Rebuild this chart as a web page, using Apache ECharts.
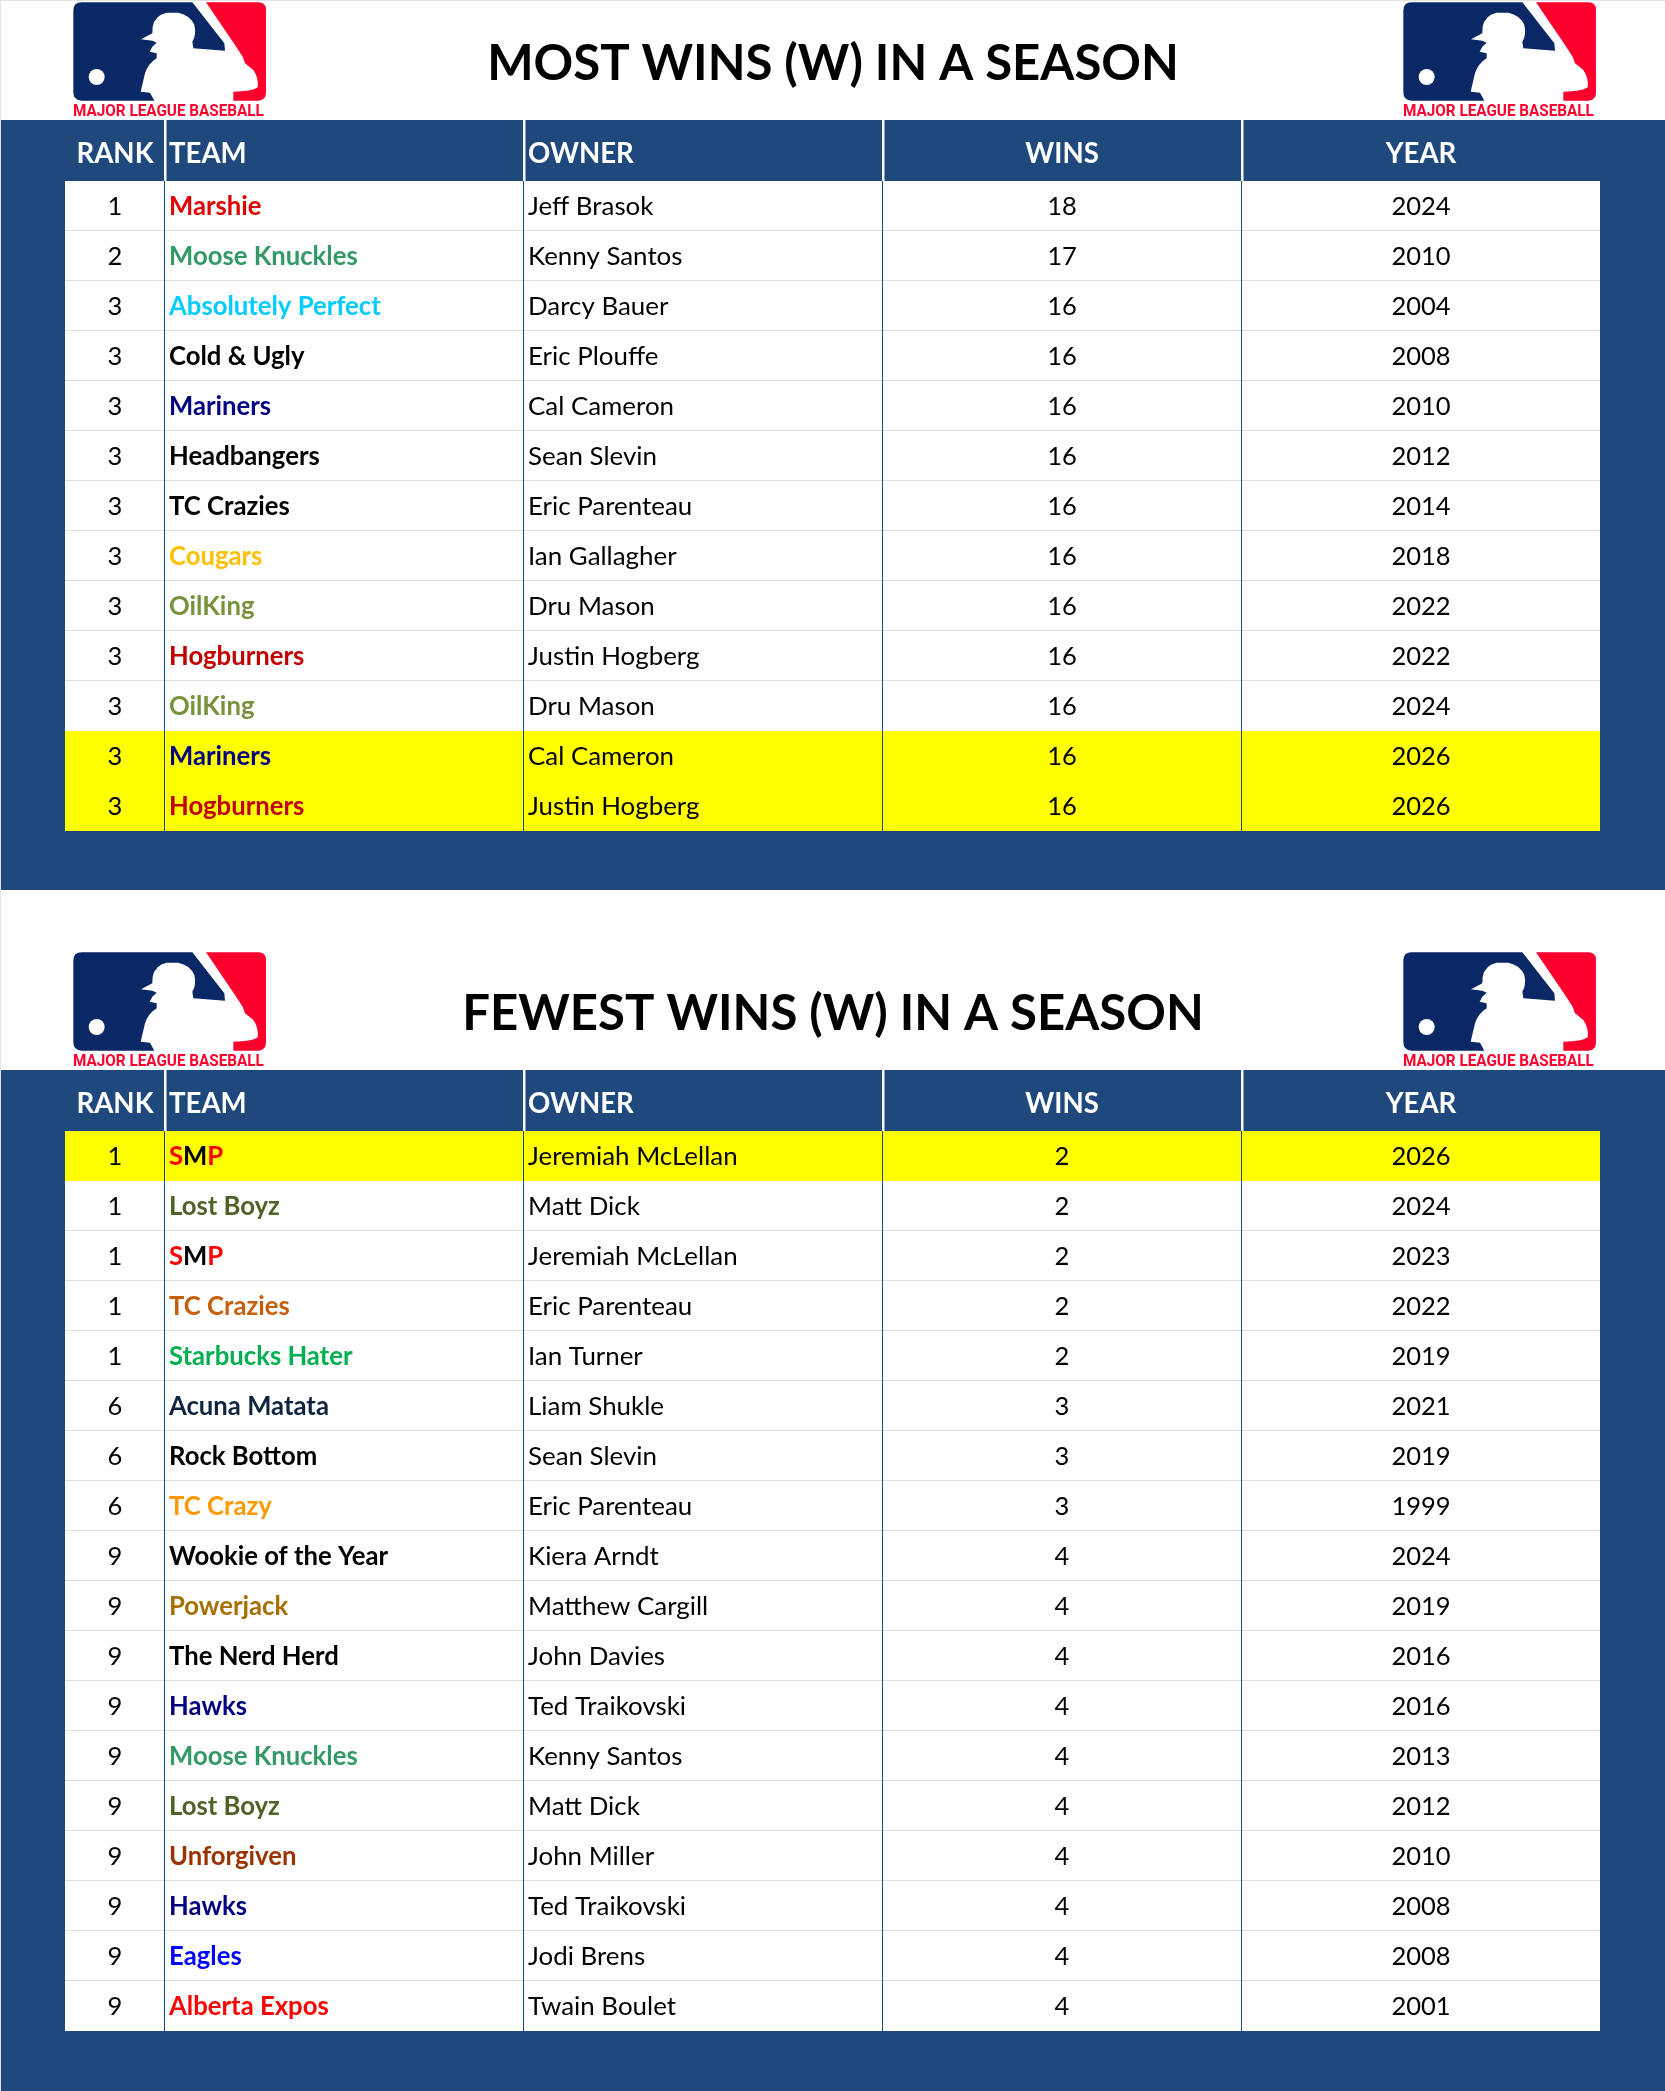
<!DOCTYPE html>
<html><head><meta charset="utf-8">
<style>html,body{margin:0;padding:0;background:#fff}#c{width:1665px;height:2091px}</style>
<script src="https://cdn.jsdelivr.net/npm/echarts@6/dist/echarts.min.js"></script>
</head><body><div id="c"></div>
<script>
// ---- data ----
const columnHeaders = ['RANK','TEAM','OWNER','WINS','YEAR'];

const mostTitle = 'MOST WINS (W) IN A SEASON';
const mostRanks = [1,2,3,3,3,3,3,3,3,3,3,3,3];
const mostTeams = ['Marshie','Moose Knuckles','Absolutely Perfect','Cold & Ugly','Mariners','Headbangers','TC Crazies','Cougars','OilKing','Hogburners','OilKing','Mariners','Hogburners'];
const mostOwners = ['Jeff Brasok','Kenny Santos','Darcy Bauer','Eric Plouffe','Cal Cameron','Sean Slevin','Eric Parenteau','Ian Gallagher','Dru Mason','Justin Hogberg','Dru Mason','Cal Cameron','Justin Hogberg'];
const mostWins = [18,17,16,16,16,16,16,16,16,16,16,16,16];
const mostYears = [2024,2010,2004,2008,2010,2012,2014,2018,2022,2022,2024,2026,2026];

const fewestTitle = 'FEWEST WINS (W) IN A SEASON';
const fewestRanks = [1,1,1,1,1,6,6,6,9,9,9,9,9,9,9,9,9,9];
const fewestTeams = ['SMP','Lost Boyz','SMP','TC Crazies','Starbucks Hater','Acuna Matata','Rock Bottom','TC Crazy','Wookie of the Year','Powerjack','The Nerd Herd','Hawks','Moose Knuckles','Lost Boyz','Unforgiven','Hawks','Eagles','Alberta Expos'];
const fewestOwners = ['Jeremiah McLellan','Matt Dick','Jeremiah McLellan','Eric Parenteau','Ian Turner','Liam Shukle','Sean Slevin','Eric Parenteau','Kiera Arndt','Matthew Cargill','John Davies','Ted Traikovski','Kenny Santos','Matt Dick','John Miller','Ted Traikovski','Jodi Brens','Twain Boulet'];
const fewestWins = [2,2,2,2,2,3,3,3,4,4,4,4,4,4,4,4,4,4];
const fewestYears = [2026,2024,2023,2022,2019,2021,2019,1999,2024,2019,2016,2016,2013,2012,2010,2008,2008,2001];

// ---- styles and layout (kept apart from the data) ----
const NAVY='#1F497D', NAVY_T='#000080', MOOSE='#339966', OIL='#76933C', HOG='#C00000', LOST='#4F6228';
const mostTeamColors = ['#E00000',MOOSE,'#00CCFF','#000000',NAVY_T,'#000000','#000000','#FFC000',OIL,HOG,OIL,NAVY_T,HOG];
const fewestTeamColors = ['#FF0000',LOST,'#FF0000','#C65F0C','#00B050','#0F243E','#000000','#FF9900','#000000','#A86F00','#000000',NAVY_T,MOOSE,LOST,'#993300',NAVY_T,'#0000FF','#FF0000'];
const mostHighlightRows = [11,12];
const fewestHighlightRows = [0];
const multiColorTeams = {SMP:[['S','#FF0000'],['M','#000000'],['P','#FF0000']]};
const columnEdges = [65,164,523,882,1241,1600];
const columnAlign = ['center','left','left','center','center'];
const TABLE_OFFSET = 950;
const FONT = 'Lato';
const TEAM_SIZE = 25.7, OWNER_SIZE = 25.9, NUM_SIZE = 25.5, HEAD_SIZE = 27.6, TITLE_SIZE = 49.1;
const TEXT_DY = 0.8;
const LOGO_RED='#FF002E', LOGO_BLUE='#0A2866';

const bluePath = 'M50,7 L382,7 L478,130 L480,152 L385,145 L382,125 Q395,105 388,75 Q375,45 340,38 L305,38 Q270,45 263,80 L262,100 L228,118 L262,122 L275,128 L262,140 L254,155 L275,160 L275,175 Q250,190 240,220 L227,275 L255,278 L268,302 L50,302 Q25,302 25,277 L25,32 Q25,7 50,7 Z';
const redPath = 'M423,7 L580,7 Q603,7 603,30 L603,277 Q603,302 580,302 L505,302 L505,275 Q560,275 578,262 Q582,235 565,210 L540,190 L533,170 L510,135 Z';
const logoOrigins = [[65,0],[1395,0],[65,TABLE_OFFSET],[1395,TABLE_OFFSET]];

function frame(off, title){
  return [
    {type:'rect', shape:{x:1, y:off+120, width:1664, height:off===0?770:1021}, style:{fill:NAVY}, z:0, silent:true},
    {type:'text', x:833, y:off+64.5, z:2, style:{text:title, fill:'#000', font:'bold '+TITLE_SIZE+'px '+FONT, align:'center', verticalAlign:'middle'}}
  ];
}
const logoSeries = {
  type:'custom', name:'Logos', coordinateSystem:'none', data:logoOrigins, silent:true, animation:false,
  renderItem(params, api){
    const ox = api.value(0), oy = api.value(1);
    return {type:'group', children:[
      {type:'path', shape:{pathData:bluePath, layout:'cover', x:ox+25/3, y:oy+7/3, width:455/3, height:295/3}, style:{fill:LOGO_BLUE}},
      {type:'path', shape:{pathData:redPath, layout:'cover', x:ox+423/3, y:oy+7/3, width:180/3, height:295/3}, style:{fill:LOGO_RED}},
      {type:'circle', shape:{cx:ox+95/3, cy:oy+231/3, r:8}, style:{fill:'#fff'}},
      {type:'text', x:ox+8, y:oy+103.5, scaleX:0.955, style:{text:'MAJOR LEAGUE BASEBALL', fill:LOGO_RED, font:'bold 16px Roboto', align:'left', verticalAlign:'top'}}
    ]};
  }
};

function bodySeries(name, gridIdx, ranks, teams, owners, wins, years, colors, highlight){
  const cols = [ranks, teams, owners, wins, years];
  const data = [];
  cols.forEach((arr,c)=>arr.forEach((v,r)=>data.push([columnEdges[c], r, c])));
  return {
    type:'custom', name, xAxisIndex:gridIdx, yAxisIndex:gridIdx, coordinateSystem:'cartesian2d', data, silent:true,
    animation:false, clip:false, encode:{x:0,y:1},
    renderItem(params, api){
      const left = api.value(0), row = api.value(1), c = api.value(2);
      const pos = api.coord([left, row]);
      const right = api.coord([columnEdges[c+1], row])[0];
      const h = api.size([0,1])[1];
      const top = pos[1]-h/2, bottom = top+h;
      const hl = highlight.includes(row);
      const next = highlight.includes(row+1);
      const kids = [{type:'rect', shape:{x:pos[0], y:top, width:right-pos[0], height:h}, style:{fill:hl?'#FFFF00':'#FFFFFF'}}];
      if(!hl && !next && row < ranks.length-1){
        kids.push({type:'rect', shape:{x:pos[0], y:bottom-1, width:right-pos[0], height:1}, style:{fill:'#DFDFDF'}});
      }
      if(c<4) kids.push({type:'rect', z2:5, shape:{x:right, y:top, width:1, height:h}, style:{fill:NAVY}});
      const raw = cols[c][row];
      const tx = columnAlign[c]==='center' ? (pos[0]+right)/2+0.5 : pos[0]+5;
      const size = c===1 ? TEAM_SIZE : c===2 ? OWNER_SIZE : NUM_SIZE;
      const txt = {x:tx, y:pos[1]+TEXT_DY, style:{fill:'#000', align:columnAlign[c], verticalAlign:'middle', font:(c===1?'bold ':'')+size+'px '+FONT, text:String(raw)}, z2:6, type:'text'};
      if(c===1){
        txt.style.fill = colors[row];
        const seg = multiColorTeams[raw];
        if(seg){
          const rich = {};
          txt.style.text = seg.map((s,i)=>{ rich['s'+i]={fill:s[1], font:'bold '+size+'px '+FONT}; return '{s'+i+'|'+s[0]+'}'; }).join('');
          txt.style.rich = rich;
        }
      }
      kids.push(txt);
      return {type:'group', children:kids};
    }
  };
}
function headerSeries(name, gridIdx){
  const data = columnHeaders.map((h,c)=>[columnEdges[c], 0, c]);
  return {
    type:'custom', name, xAxisIndex:gridIdx, yAxisIndex:gridIdx, coordinateSystem:'cartesian2d', data, silent:true,
    animation:false, clip:false, encode:{x:0,y:1},
    renderItem(params, api){
      const c = api.value(2), pos = api.coord([api.value(0), 0]);
      const right = api.coord([columnEdges[c+1], 0])[0];
      const h = api.size([0,1])[1];
      const kids = [];
      if(c<4) kids.push({type:'rect', shape:{x:right, y:pos[1]-h/2, width:2.5, height:h}, style:{fill:'#FFFFFF'}});
      const tx = columnAlign[c]==='center' ? (pos[0]+right)/2+0.5 : pos[0]+5;
      kids.push({type:'text', x:tx, y:pos[1]+3.2, style:{text:columnHeaders[c], fill:'#fff', align:columnAlign[c], verticalAlign:'middle', font:'bold '+HEAD_SIZE+'px '+FONT}});
      return {type:'group', children:kids};
    }
  };
}
const rowsCat = n => Array.from({length:n},(_,i)=>i);
const layouts = [
  {top:120, height:61, cats:[0]},
  {top:181, height:50*mostRanks.length, cats:rowsCat(mostRanks.length)},
  {top:120+TABLE_OFFSET, height:61, cats:[0]},
  {top:181+TABLE_OFFSET, height:50*fewestRanks.length, cats:rowsCat(fewestRanks.length)}
];
const option = {
  animation:false,
  backgroundColor:'#fff',
  grid: layouts.map(l=>({left:0, width:1665, top:l.top, height:l.height, show:false})),
  xAxis: layouts.map((l,i)=>({type:'value', gridIndex:i, min:0, max:1665, show:false})),
  yAxis: layouts.map((l,i)=>({type:'category', gridIndex:i, data:l.cats, inverse:true, show:false})),
  graphic: {elements: [
    {type:'rect', shape:{x:0,y:0,width:1665,height:1}, style:{fill:'#E3E3E3'}, z:3},
    {type:'rect', shape:{x:0,y:0,width:1,height:2091}, style:{fill:'#E3E3E3'}, z:3}
  ].concat(frame(0,mostTitle), frame(TABLE_OFFSET,fewestTitle))},
  series:[
    logoSeries,
    headerSeries('Most header',0),
    bodySeries('Most wins',1,mostRanks,mostTeams,mostOwners,mostWins,mostYears,mostTeamColors,mostHighlightRows),
    headerSeries('Fewest header',2),
    bodySeries('Fewest wins',3,fewestRanks,fewestTeams,fewestOwners,fewestWins,fewestYears,fewestTeamColors,fewestHighlightRows)
  ]
};
const chart = echarts.init(document.getElementById('c'), null, {renderer:'canvas', width:1665, height:2091});
chart.setOption(option);
</script></body></html>
